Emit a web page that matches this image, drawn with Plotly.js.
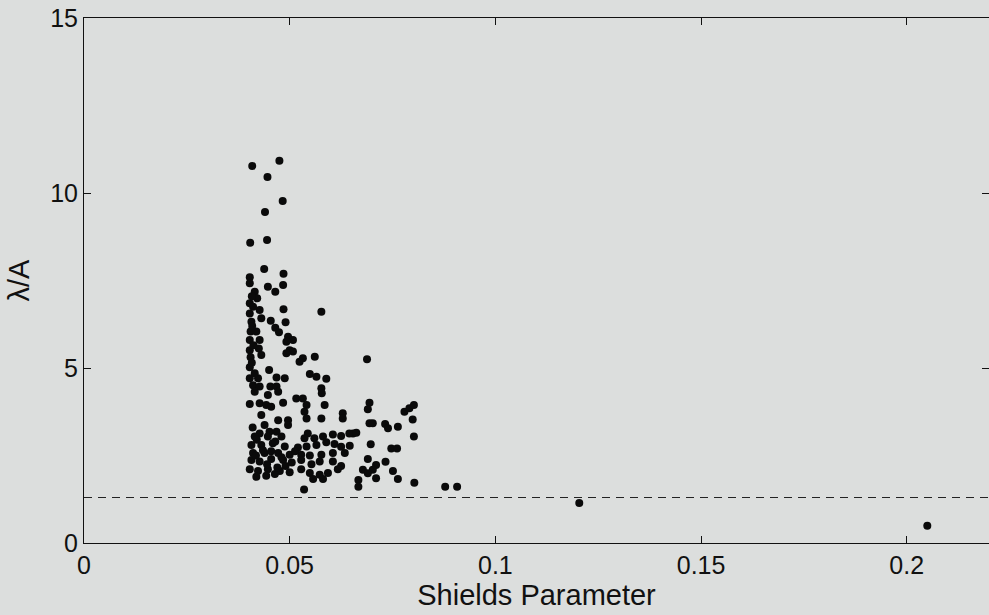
<!DOCTYPE html>
<html>
<head>
<meta charset="utf-8">
<script src="https://cdn.plot.ly/plotly-3.0.1.min.js"></script>
<style>
html,body{margin:0;padding:0;background:#dcdedd;}
#chart{width:989px;height:615px;}
</style>
</head>
<body>
<div id="chart"></div>
<script>
// Shields parameter (x) and λ/A (y) observations
const shieldsX = [
  0.0409,0.0475,0.0446,0.0483,0.0440,0.0404,0.0445,0.0438,
  0.0485,0.0403,0.0403,0.0447,0.0465,0.0484,0.0415,0.0421,0.0403,0.0403,0.0427,0.0485,
  0.0577,0.0407,0.0431,0.0454,0.0490,0.0465,0.0474,0.0405,0.0419,0.0403,0.0427,0.0496,
  0.0508,0.0492,0.0403,0.0425,0.0431,0.0405,0.0500,0.0508,0.0532,0.0524,0.0561,0.0492,
  0.0403,0.0450,0.0549,0.0565,0.0589,0.0403,0.0423,0.0468,0.0488,0.0411,0.0427,0.0453,
  0.0468,0.0577,0.0408,0.0411,0.0409,0.0412,0.0408,0.0415,
  0.0415,0.0447,0.0472,0.0516,0.0532,0.0578,0.0403,0.0427,0.0443,0.0455,0.0484,0.0541,
  0.0585,0.0629,0.0536,0.0431,0.0472,0.0496,0.0496,0.0541,0.0577,0.0629,0.0654,0.0439,
  0.0427,0.0451,0.0468,0.0544,0.0605,0.0625,0.0645,0.0415,0.0447,0.0480,0.0560,0.0581,
  0.0536,0.0407,0.0431,0.0459,0.0488,0.0520,0.0541,0.0565,0.0589,0.0609,0.0625,0.0646,
  0.0411,0.0439,0.0472,0.0500,0.0528,0.0549,0.0577,0.0605,0.0634,0.0407,0.0427,0.0455,
  0.0484,0.0528,0.0553,0.0573,0.0605,0.0625,0.0403,0.0423,0.0447,0.0476,0.0500,0.0528,
  0.0549,0.0573,0.0593,0.0617,0.0419,0.0443,0.0464,0.0557,0.0581,0.0535,
  0.0410,0.0420,0.0435,0.0455,0.0465,0.0480,0.0490,0.0445,0.0418,0.0470,0.0505,0.0513,
  0.0694,0.0690,0.0779,0.0791,0.0802,0.0662,0.0694,0.0702,0.0732,0.0739,0.0763,0.0799,
  0.0802,0.0697,0.0747,0.0761,0.0690,0.0710,0.0702,0.0733,0.0678,0.0690,0.0710,0.0751,
  0.0763,0.0803,0.0667,0.0667,0.0878,0.0907,0.0688,
  0.1204,0.2050
];
const lambdaOverA = [
  10.77,10.92,10.46,9.77,9.46,8.58,8.66,7.83,
  7.69,7.59,7.42,7.32,7.18,7.37,7.18,6.99,6.85,6.56,6.66,6.68,
  6.61,6.32,6.42,6.35,6.31,6.15,6.02,6.04,6.04,5.80,5.80,5.89,
  5.80,5.75,5.51,5.56,5.37,5.31,5.51,5.47,5.28,5.18,5.32,5.42,
  5.02,4.94,4.83,4.75,4.69,4.71,4.71,4.73,4.71,4.51,4.47,4.47,
  4.47,4.42,7.05,6.75,6.20,5.65,5.15,4.85,
  4.32,4.23,4.32,4.13,4.13,4.28,3.97,3.99,3.94,3.89,4.01,3.94,
  3.94,3.71,3.75,3.66,3.51,3.51,3.37,3.56,3.56,3.56,3.13,3.37,
  3.13,3.18,3.18,3.13,3.10,3.06,3.13,3.04,3.04,3.04,2.99,3.04,
  2.99,2.80,2.80,2.85,2.76,2.73,2.76,2.80,2.88,2.83,2.75,2.78,
  2.57,2.57,2.57,2.52,2.52,2.50,2.52,2.57,2.57,2.37,2.33,2.40,
  2.37,2.37,2.25,2.33,2.33,2.20,2.11,2.06,2.11,2.06,2.02,2.11,
  2.00,1.95,2.00,2.11,1.89,1.92,1.97,1.83,1.83,1.53,
  3.30,2.95,2.65,2.62,2.90,2.45,2.20,2.25,2.50,2.16,2.30,2.62,
  4.01,3.82,3.75,3.85,3.94,3.15,3.42,3.42,3.40,3.28,3.32,3.53,
  3.04,2.82,2.70,2.70,2.40,2.23,2.09,2.32,2.09,1.99,1.85,2.06,
  1.83,1.72,1.80,1.61,1.61,1.61,5.25,
  1.14,0.49
];
// dashed reference level
const thresholdX = [0, 0.22];
const thresholdY = [1.3, 1.3];

const xTickVals = [0, 0.05, 0.1, 0.15, 0.2];
const xTickText = ['0', '0.05', '0.1', '0.15', '0.2'];
const yTickVals = [0, 5, 10, 15];
const yTickText = ['0', '5', '10', '15'];

const bg = '#dcdedd';
const fontFam = '"Liberation Sans", Arial, Helvetica, sans-serif';

const traces = [
  {
    x: thresholdX, y: thresholdY, type: 'scatter', mode: 'lines',
    line: {color: '#222', width: 1, dash: '8px,6px'},
    hoverinfo: 'skip', showlegend: false
  },
  {
    x: shieldsX, y: lambdaOverA, type: 'scatter', mode: 'markers',
    marker: {color: '#0a0a0a', size: 8, line: {width: 0}},
    showlegend: false
  }
];

const axisCommon = {
  showgrid: false, zeroline: false, showline: true, linecolor: '#111', linewidth: 1,
  mirror: 'allticks', ticks: 'inside', ticklen: 7, tickcolor: '#111', tickwidth: 1,
  tickfont: {family: fontFam, size: 25, color: '#111'}
};

const layout = {
  width: 989, height: 615,
  margin: {l: 84, r: 0, t: 18, b: 72, pad: 0},
  paper_bgcolor: bg, plot_bgcolor: bg,
  font: {family: fontFam, color: '#111'},
  showlegend: false,
  xaxis: Object.assign({}, axisCommon, {
    range: [0, 0.22], tickmode: 'array', tickvals: xTickVals, ticktext: xTickText,
    ticklabelstandoff: 0,
    title: {text: 'Shields Parameter', font: {family: fontFam, size: 29, color: '#111'}, standoff: 0}
  }),
  yaxis: Object.assign({}, axisCommon, {
    range: [0, 15], tickmode: 'array', tickvals: yTickVals, ticktext: yTickText,
    title: {text: 'λ/A', font: {family: fontFam, size: 29, color: '#111'}, standoff: 12}
  })
};

Plotly.newPlot('chart', traces, layout, {displayModeBar: false, staticPlot: true});
</script>
</body>
</html>
